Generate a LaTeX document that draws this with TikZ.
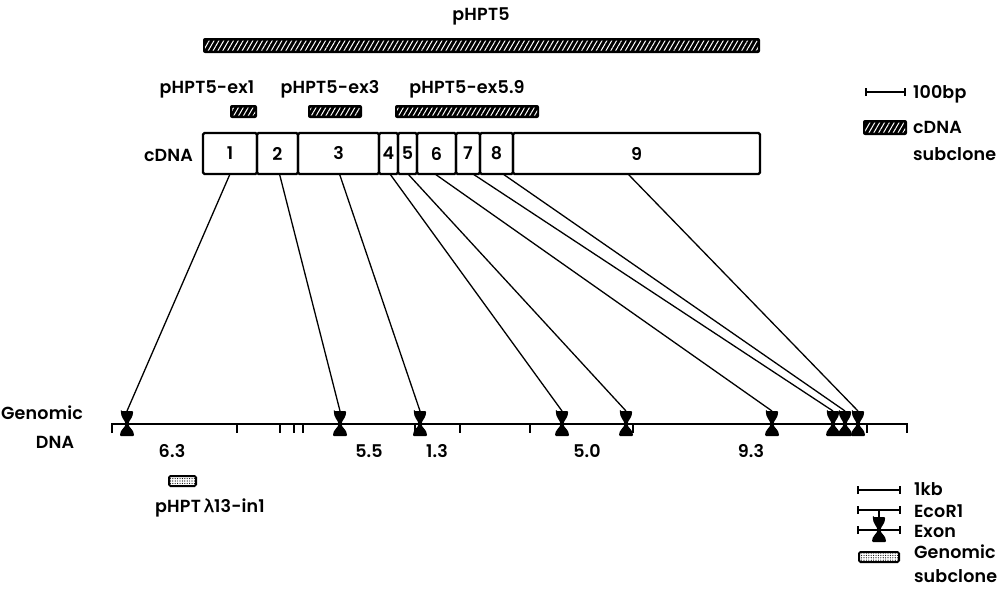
\documentclass[tikz,border=0pt]{standalone}
\usepackage{fontspec}
\setmainfont{Poppins}[UprightFont=* SemiBold, LetterSpace=1]
\newfontfamily\lamfont{DejaVu Sans}[FakeBold=1.5]
\usetikzlibrary{patterns.meta,calc}
\begin{document}
\begin{tikzpicture}[x=1pt,y=-1pt,
  every node/.style={inner sep=0pt, outer sep=0pt, font=\fontsize{17.5}{20}\selectfont},
  txt/.style={anchor=base},
  ltxt/.style={anchor=base west},
  exbox/.style={draw, line width=2.2pt, minimum height=41pt, rounded corners=1.5pt, anchor=north west},
  hatchbar/.style={fill=black, rounded corners=2pt, anchor=north west, minimum height=#1,
    path picture={\fill[pattern={Lines[angle=60,distance=4.2pt,line width=1pt]}, pattern color=white]
      ([shift={(2pt,-2.5pt)}]path picture bounding box.north west) rectangle
      ([shift={(-2pt,2.5pt)}]path picture bounding box.south east);}},
  gsub/.style={draw, line width=2pt, fill=white, rounded corners=1.5pt, anchor=north west,
    path picture={\fill[pattern={Dots[distance=2.4pt,radius=0.6pt]}]
      ([shift={(1pt,-1pt)}]path picture bounding box.north west) rectangle
      ([shift={(-1pt,1pt)}]path picture bounding box.south east);}},
  conn/.style={line width=1.3pt},
  gline/.style={line width=2.4pt},
  tick/.style={line width=2pt},
  exon/.pic={\fill[rounded corners=1pt] (-6,-13) -- (6,-13)
      .. controls (6.5,-7) and (2,-3.5) .. (1.6,0)
      .. controls (2,3.5) and (7,6) .. (7,12) -- (-7,12)
      .. controls (-7,6) and (-2,3.5) .. (-1.6,0)
      .. controls (-2,-3.5) and (-6.5,-7) .. (-6,-13) -- cycle;}
]
\useasboundingbox (0,0) rectangle (1006,613);

% title and full-length clone
\node[txt] (t5) at (481,20) {pHPT5};
\node[hatchbar=15pt, minimum width=557pt] (b5) at (203,38) {};

% cDNA subclones
\node[txt] (tex1) at (207,93) {pHPT5-ex1};
\node[txt] (tex3) at (330,93) {pHPT5-ex3};
\node[txt] (tex59) at (467,93) {pHPT5-ex5.9};
\node[hatchbar=13pt, minimum width=27pt] (bex1) at (230,105) {};
\node[hatchbar=13pt, minimum width=54pt] (bex3) at (308,105) {};
\node[hatchbar=13pt, minimum width=144pt] (bex59) at (395,105) {};

% cDNA exons
\node[anchor=base east] (tcdna) at (193,161) {cDNA};
\node[exbox, minimum width=54pt] (c1) at (203,133) {1};
\node[exbox, minimum width=41pt] (c2) at (257,133) {2};
\node[exbox, minimum width=81pt] (c3) at (298,133) {3};
\node[exbox, minimum width=19pt] (c4) at (379,133) {4};
\node[exbox, minimum width=19pt] (c5) at (398,133) {5};
\node[exbox, minimum width=39pt] (c6) at (417,133) {6};
\node[exbox, minimum width=24pt] (c7) at (456,133) {7};
\node[exbox, minimum width=33pt] (c8) at (480,133) {8};
\node[exbox, minimum width=247pt] (c9) at (513,133) {9};

% genomic DNA
\node[txt] (tgen) at (42,419) {Genomic};
\node[txt] (tdna) at (55,448) {DNA};
\coordinate (gL) at (112,424);
\coordinate (gR) at (907,424);
\draw[gline] ([yshift=-9pt]gL) -- (gL) -- (gR) -- ([yshift=-9pt]gR);
\foreach \x in {237,280,294,303,415,460,530,633,867}
  \draw[tick] (\x,424) -- (\x,433);

\foreach \x/\n in {127/1,340/2,420/3,562/4,626/5,772/6,833/7,845/8,858/9}{
  \coordinate (g\n) at (\x,411);
  \pic at (\x,424) {exon};
}

% connectors
\draw[conn] (c1.south) -- (g1);
\draw[conn] ([xshift=2pt]c2.south) -- (g2);
\draw[conn] ([xshift=1pt]c3.south) -- (g3);
\draw[conn] ([xshift=1.5pt]c4.south) -- (g4);
\draw[conn] ([xshift=0.5pt]c5.south) -- (g5);
\draw[conn] ([xshift=-1.5pt]c6.south) -- (g6);
\draw[conn] ([xshift=5pt]c7.south) -- (g7);
\draw[conn] ([xshift=6.5pt]c8.south) -- (g8);
\draw[conn] ([xshift=-8.5pt]c9.south) -- (g9);

% fragment sizes
\node[txt] (f1) at (172,457) {6.3};
\node[txt] (f2) at (369,457) {5.5};
\node[txt] (f3) at (437,457) {1.3};
\node[txt] (f4) at (587,457) {5.0};
\node[txt] (f5) at (751,457) {9.3};

% genomic subclone
\node[gsub, minimum width=27pt, minimum height=10pt] (gs) at (169,476) {};
\node[txt] (tgs) at (210,512) {pHPT\,{\lamfont λ}13-in1};

% legend top
\coordinate (s1a) at (866,92);
\coordinate (s1b) at (905,92);
\draw[tick] (s1a) -- (s1b);
\draw[tick] ([yshift=-4pt]s1a) -- ([yshift=4pt]s1a);
\draw[tick] ([yshift=-4pt]s1b) -- ([yshift=4pt]s1b);
\node[ltxt] (l100) at (913,98) {100bp};
\node[hatchbar=15pt, minimum width=44pt] (lh) at (863,120) {};
\node[ltxt] (lcd) at (913,133) {cDNA};
\node[ltxt] (lsc) at (913,160) {subclone};

% legend bottom
\foreach \y/\n in {490/k,510/e,530/x}{
  \coordinate (la\n) at (858,\y);
  \coordinate (lb\n) at (900,\y);
  \draw[tick] (la\n) -- (lb\n);
  \draw[tick] ([yshift=-4pt]la\n) -- ([yshift=4pt]la\n);
  \draw[tick] ([yshift=-4pt]lb\n) -- ([yshift=4pt]lb\n);
}
\draw[tick] (879,510) -- (879,518);
\pic at (879,530) {exon};
\node[ltxt] (l1kb) at (914,495) {1kb};
\node[ltxt] (leco) at (914,517) {EcoR1};
\node[ltxt] (lexo) at (914,537) {Exon};
\node[gsub, minimum width=40pt, minimum height=10pt] (lgs) at (859,552) {};
\node[ltxt] (lgen) at (914,558) {Genomic};
\node[ltxt] (lsub) at (914,582) {subclone};
\end{tikzpicture}
\end{document}
